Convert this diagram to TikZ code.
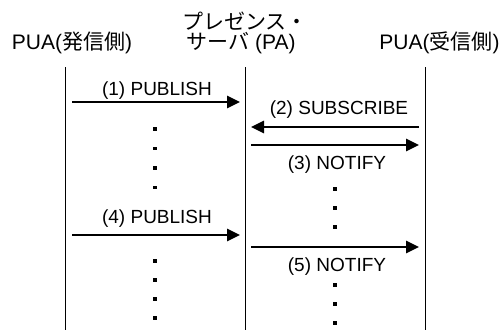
\documentclass[tikz,border=0pt]{standalone}
\usepackage{fontspec}
\setmainfont{Liberation Sans}
\newfontfamily\cjk{Noto Sans CJK JP}
\usetikzlibrary{arrows.meta}
\begin{document}
\begin{tikzpicture}[x=1pt,y=-1pt,
  head/.style={font=\fontsize{21}{24}\selectfont, inner sep=0pt, anchor=base},
  lbl/.style={font=\fontsize{19}{22}\selectfont, inner sep=0pt, anchor=base},
  life/.style={line width=1pt},
  msg/.style={line width=2.8pt, -{Triangle[length=13pt,width=12pt]}},
  dot/.style={fill=black, draw=none, rectangle, minimum size=3.6pt, inner sep=0pt}]
\useasboundingbox (0,0) rectangle (500,330);
% headers
\node[head] (hA) at (72,49) {PUA({\cjk 発信側})};
\node[head] (hB1) at (245,29) {{\cjk プレゼンス・}};
\node[head] (hB2) at (241,49) {{\cjk サーバ} (PA)};
\node[head] (hC) at (439.5,49) {PUA({\cjk 受信側})};
% lifelines
\coordinate (lA) at (65,67); \coordinate (lAe) at (65,330);
\coordinate (lB) at (245,67); \coordinate (lBe) at (245,330);
\coordinate (lC) at (425,67); \coordinate (lCe) at (425,330);
\draw[life] (lA) -- (lAe);
\draw[life] (lB) -- (lBe);
\draw[life] (lC) -- (lCe);
% messages
\coordinate (m1s) at (72,102); \coordinate (m1e) at (240,102);
\draw[msg] (m1s) -- (m1e);
\node[lbl] (t1) at (157,95) {(1) PUBLISH};
\coordinate (m2s) at (419,127); \coordinate (m2e) at (251,127);
\draw[msg] (m2s) -- (m2e);
\node[lbl] (t2) at (339,114) {(2) SUBSCRIBE};
\coordinate (m3s) at (251,145); \coordinate (m3e) at (419,145);
\draw[msg] (m3s) -- (m3e);
\node[lbl] (t3) at (337,169) {(3) NOTIFY};
\coordinate (m4s) at (72,235); \coordinate (m4e) at (240,235);
\draw[msg] (m4s) -- (m4e);
\node[lbl] (t4) at (157,223) {(4) PUBLISH};
\coordinate (m5s) at (251,247); \coordinate (m5e) at (419,247);
\draw[msg] (m5s) -- (m5e);
\node[lbl] (t5) at (337,271) {(5) NOTIFY};
% dots
\foreach \y [count=\i] in {129,148.5,168,187.5} \node[dot] (dl\i) at (155,\y) {};
\foreach \y [count=\i] in {189,208,227} \node[dot] (dr\i) at (335,\y) {};
\foreach \y [count=\i] in {261,280,299,318} \node[dot] (dm\i) at (155,\y) {};
\foreach \y [count=\i] in {285,304,323} \node[dot] (dn\i) at (335,\y) {};
\end{tikzpicture}
\end{document}
